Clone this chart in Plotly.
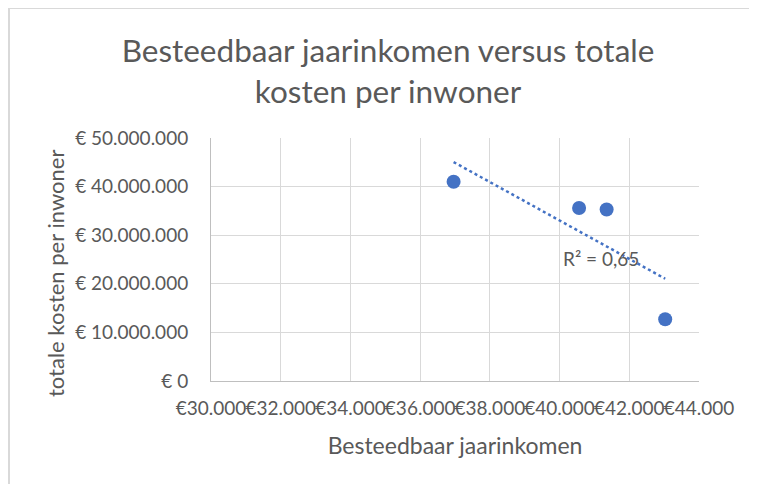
import numpy as np
import plotly.graph_objects as go

# Data
inkomen = [36960, 40560, 41350, 43030]          # Besteedbaar jaarinkomen (€)
kosten = [41.0e6, 35.6e6, 35.3e6, 12.7e6]       # totale kosten per inwoner (€)

title_text = "Besteedbaar jaarinkomen versus totale<br>kosten per inwoner"
x_title = "Besteedbaar jaarinkomen"
y_title = "totale kosten per inwoner"

BLUE = "#4472C4"
GRAY_TEXT = "#595959"
FONT = "Lato"

x = np.array(inkomen, dtype=float)
y = np.array(kosten, dtype=float)
slope, intercept = np.polyfit(x, y, 1)
y_fit_pts = slope * x + intercept
r2 = 1 - np.sum((y - y_fit_pts) ** 2) / np.sum((y - y.mean()) ** 2)
x_line = np.array([x.min(), x.max()])
y_line = slope * x_line + intercept

fig = go.Figure()
fig.add_trace(go.Scatter(
    x=x_line, y=y_line, mode="lines",
    line=dict(color=BLUE, width=2.5, dash="dot"),
    hoverinfo="skip", showlegend=False))
fig.add_trace(go.Scatter(
    x=inkomen, y=kosten, mode="markers",
    marker=dict(color=BLUE, size=14),
    showlegend=False))

r2_label = "R² = " + f"{r2:.2f}".replace(".", ",")
fig.add_annotation(
    x=41190, y=25.3e6, text=r2_label, showarrow=False,
    font=dict(family=FONT, size=19, color=GRAY_TEXT))

# figure is placed by the page with an 8px body margin
W, H = 749, 476
L, R, T, B = 203, 58, 130, 103
pw, ph = W - L - R, H - T - B

def px_to_paper_x(px):
    return (px - L) / pw

def py_to_paper_y(py):
    return (H - B - py) / ph

# y-axis title as rotated annotation (Excel places it slightly lower)
fig.add_annotation(
    xref="paper", yref="paper",
    x=px_to_paper_x(47), y=py_to_paper_y(266),
    xanchor="center", yanchor="middle",
    text=y_title, textangle=-90, showarrow=False,
    font=dict(family=FONT, size=22, color=GRAY_TEXT))

# Chart border (top and left visible)
fig.add_shape(type="line", xref="paper", yref="paper",
              x0=px_to_paper_x(1), x1=px_to_paper_x(1),
              y0=py_to_paper_y(H + 5), y1=py_to_paper_y(0),
              line=dict(color="#D9D9D9", width=2))
fig.add_shape(type="line", xref="paper", yref="paper",
              x0=px_to_paper_x(0), x1=px_to_paper_x(W + 5),
              y0=py_to_paper_y(0), y1=py_to_paper_y(0),
              line=dict(color="#D9D9D9", width=2))

fig.update_layout(
    width=W, height=H,
    margin=dict(l=L, r=R, t=T, b=B),
    paper_bgcolor="white", plot_bgcolor="white",
    separators=",.",
    font=dict(family=FONT, color=GRAY_TEXT),
    title=dict(text=title_text, x=380 / W, xref="container", xanchor="center",
               y=1 - 54 / H, yref="container", yanchor="middle",
               font=dict(family=FONT, size=31.5, color=GRAY_TEXT)),
)

fig.update_xaxes(
    range=[30000, 44000], dtick=2000, tick0=30000,
    tickprefix="€", tickformat=",d", tickangle=0,
    showgrid=True, gridcolor="#D9D9D9", gridwidth=1,
    showline=True, linecolor="#BFBFBF", linewidth=1, mirror=False,
    zeroline=False, ticks="", ticklabelstandoff=10,
    tickfont=dict(family=FONT, size=19, color=GRAY_TEXT),
    title=dict(text=x_title, font=dict(family=FONT, size=23, color=GRAY_TEXT),
               standoff=20),
)
fig.update_yaxes(
    range=[0, 50e6], dtick=10e6,
    tickprefix="€ ", tickformat=",d",
    showgrid=True, gridcolor="#D9D9D9", gridwidth=1,
    showline=True, linecolor="#BFBFBF", linewidth=1,
    zeroline=False, ticks="", ticklabelstandoff=18,
    tickfont=dict(family=FONT, size=19, color=GRAY_TEXT),
)

fig.write_html("out.html")
